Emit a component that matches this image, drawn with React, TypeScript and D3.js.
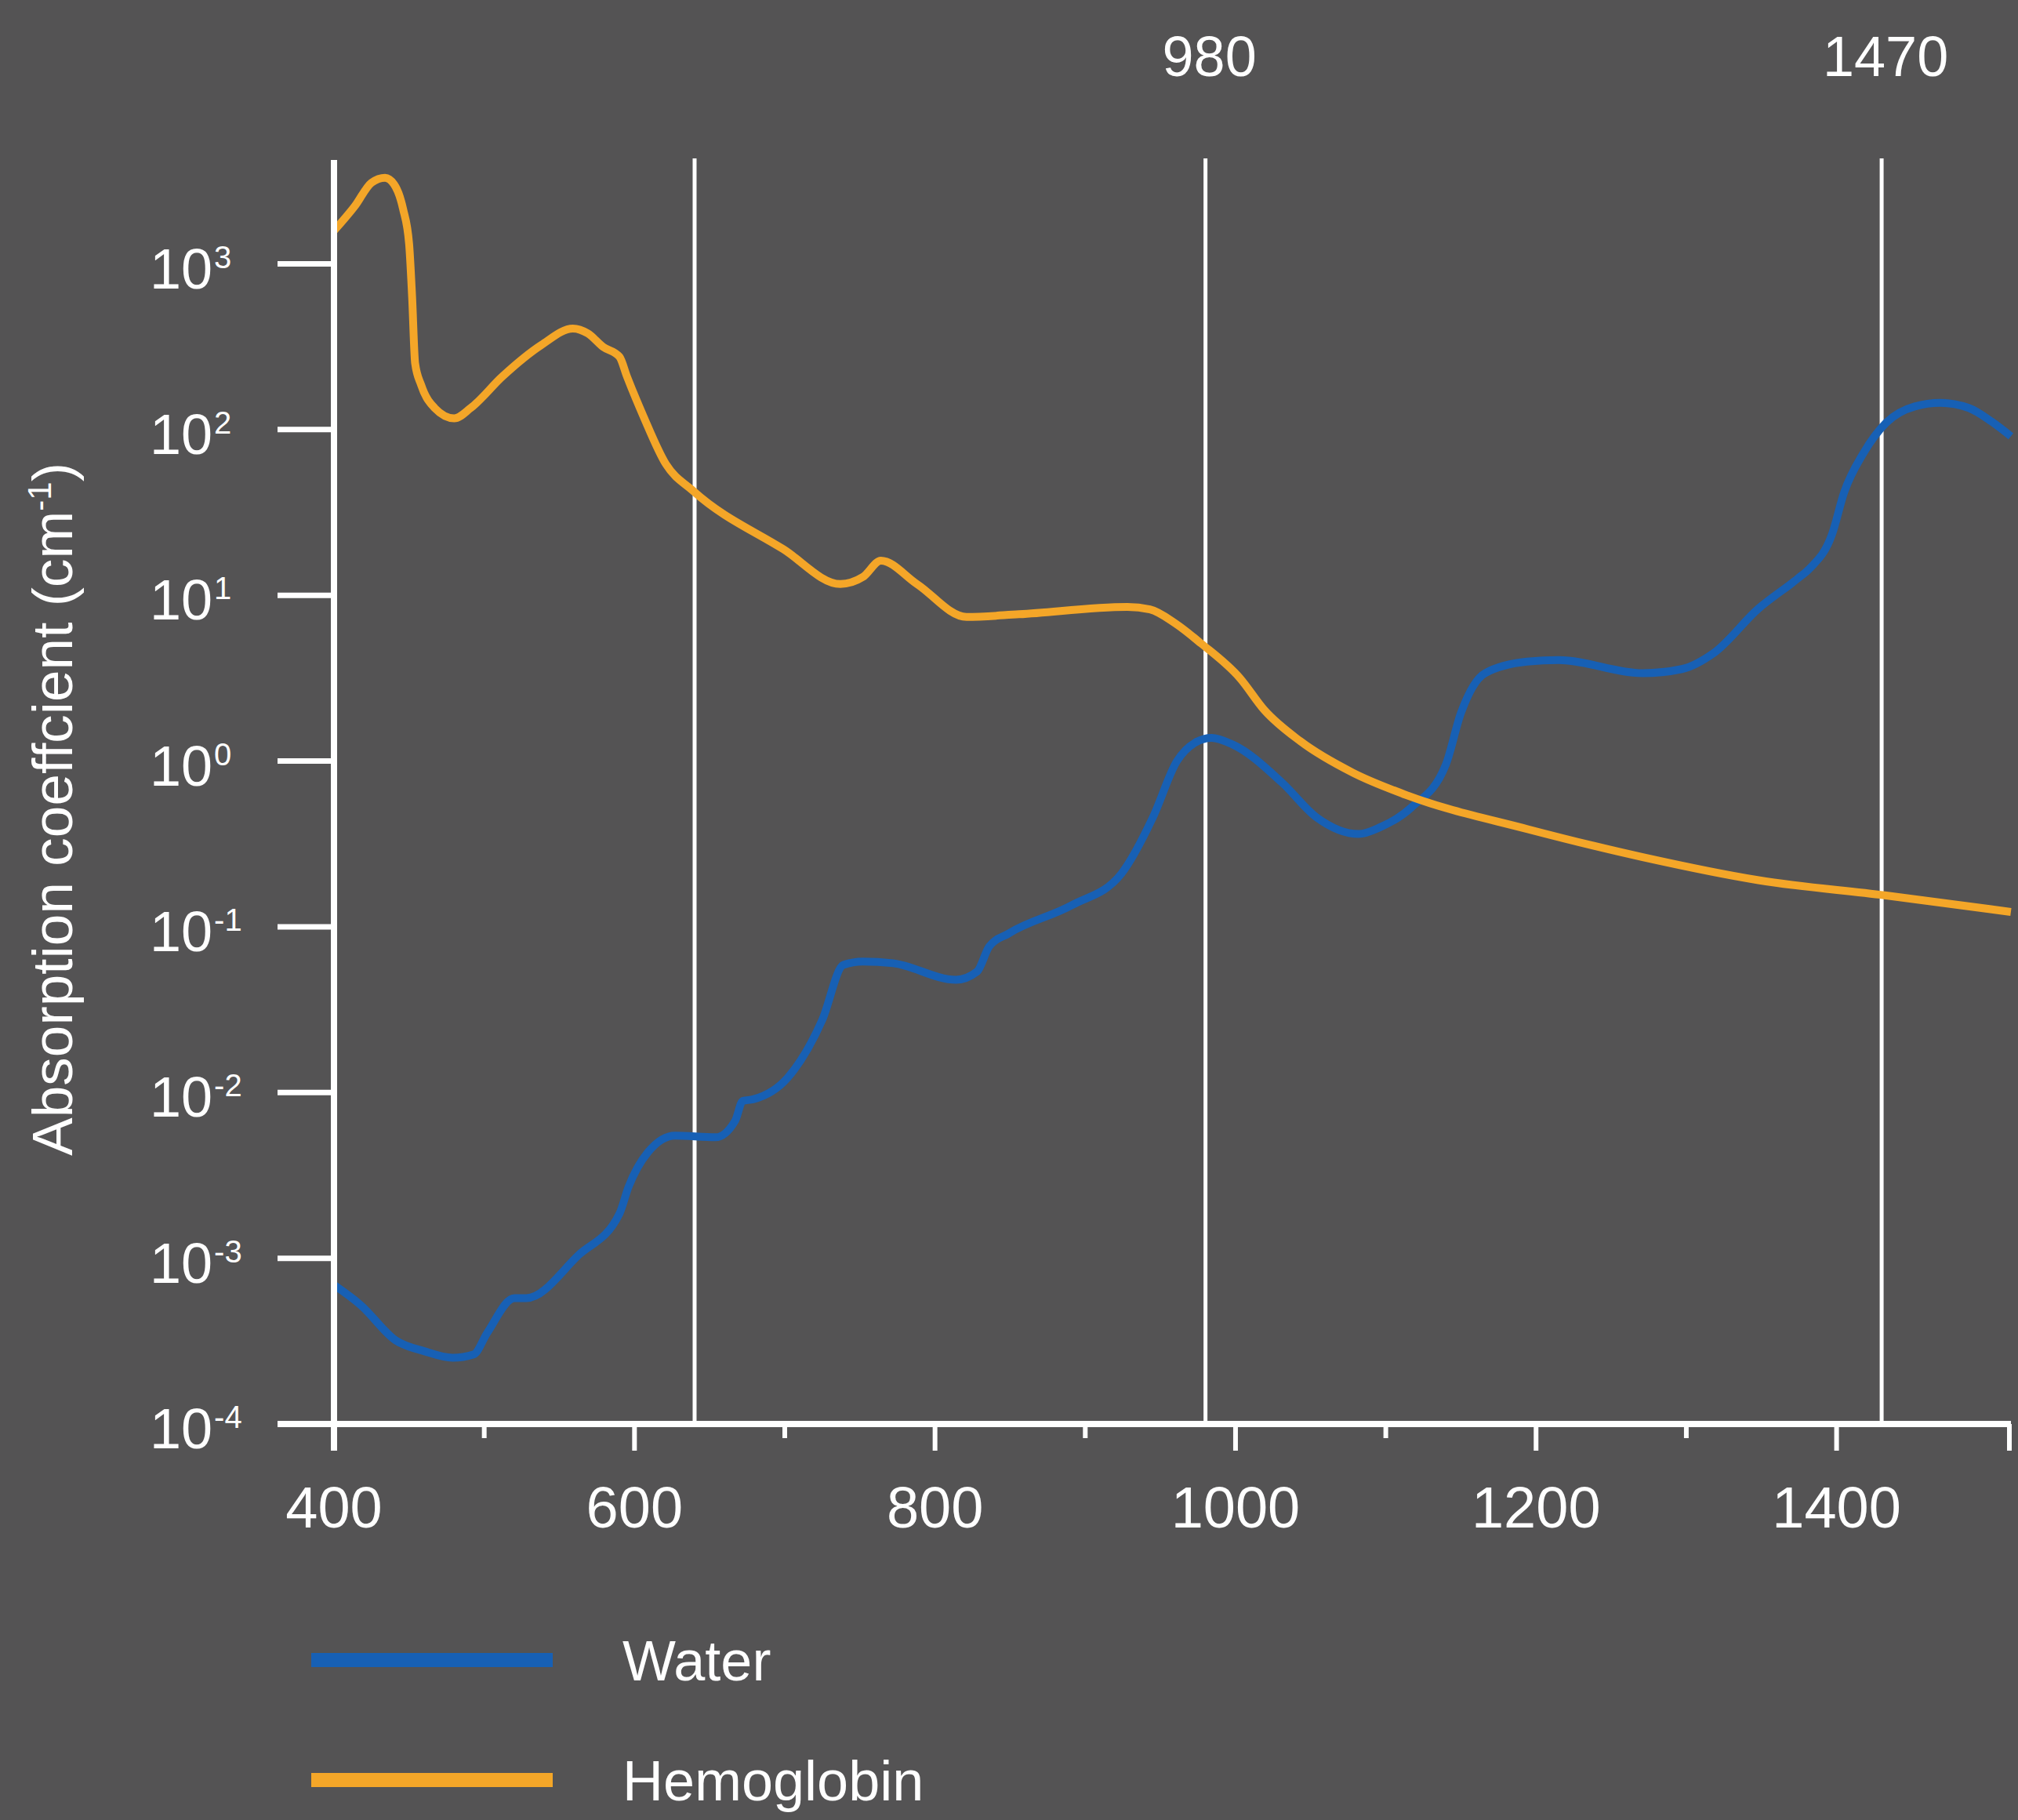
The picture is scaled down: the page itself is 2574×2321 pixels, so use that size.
import React, { useEffect } from 'react';
import * as d3 from 'd3';

// wavelength (nm) and absorption coefficient (cm-1)
const hemoglobinNm = [
  400, 414, 425, 434, 440, 446, 450, 452, 454, 458, 467, 480, 491, 512, 538, 559, 569, 579, 590, 595,
  606, 621, 639, 699, 737, 752, 764, 788, 821, 856, 928, 943, 960, 977, 1003, 1019, 1043, 1078, 1115,
  1194, 1271, 1348, 1432, 1516,
];
const hemoglobinAbs = [
  1585, 2240, 3090, 3310, 3020, 2140, 1320, 631, 251, 186, 135, 117, 135, 209, 324, 407, 380, 316, 275,
  209, 120, 61.7, 42.7, 19.0, 11.7, 12.9, 16.2, 11.7, 7.41, 7.69, 8.51, 8.22, 6.76, 5.13, 3.16, 2.04,
  1.32, 0.851, 0.617, 0.389, 0.263, 0.191, 0.155, 0.123,
];

const waterNm = [
  400, 418, 441, 460, 479, 493, 502, 520, 528, 563, 590, 596, 609, 627, 654, 667, 672, 679, 702, 725,
  739, 752, 772, 814, 828, 836, 849, 891, 924, 945, 961, 973, 984, 998, 1031, 1054, 1082, 1096, 1117,
  1140, 1150, 1166, 1194, 1215, 1271, 1297, 1318, 1348, 1374, 1382, 1397, 1405, 1418, 1433, 1452, 1469,
  1488, 1503, 1516,
];
const waterAbs = [
  0.00069, 0.00052, 0.00032, 0.000275, 0.000251, 0.000263, 0.000355, 0.000575, 0.000575, 0.00105,
  0.00186, 0.00269, 0.00437, 0.0055, 0.00537, 0.00676, 0.0089, 0.0091, 0.0123, 0.0275, 0.0589, 0.0617,
  0.0603, 0.0479, 0.0537, 0.0759, 0.0912, 0.135, 0.209, 0.457, 1.0, 1.29, 1.38, 1.26, 0.741, 0.457,
  0.363, 0.398, 0.525, 0.955, 1.95, 3.39, 3.98, 4.07, 3.39, 3.59, 4.47, 8.32, 12.6, 14.5, 23.4, 41.7,
  72.4, 110, 138, 145, 135, 112, 91.2,
];

const xTickValues = [400, 500, 600, 700, 800, 900, 1000, 1100, 1200, 1300, 1400];
const xLabelValues = [400, 600, 800, 1000, 1200, 1400];
const yExponents = [3, 2, 1, 0, -1, -2, -3, -4];
const markerNm = [640, 980, 1430];
const markerLabels = ['', '980', '1470'];
const legendNames = ['Water', 'Hemoglobin'];

const App = () => {
  useEffect(() => {
    document.body.style.margin = '0';
    d3.select('#chart').select('svg').remove();

    const width = 2574,
      height = 2321;
    const bg = '#545354',
      fg = '#ffffff',
      blue = '#1760b5',
      orange = '#f4a628';
    const font = "'Liberation Sans', Arial, sans-serif";

    const svg = d3
      .select('#chart')
      .append('svg')
      .attr('width', width)
      .attr('height', height)
      .style('display', 'block');

    svg.append('rect').attr('width', width).attr('height', height).attr('fill', bg);

    const x = d3.scaleLinear().domain([400, 1515]).range([426, 2563]);
    const y = d3
      .scaleLog()
      .domain([1e-4, Math.pow(10, 3.627)])
      .range([1816, 204]);

    // vertical marker lines
    svg
      .selectAll('.marker')
      .data(markerNm)
      .enter()
      .append('line')
      .attr('x1', (d) => x(d))
      .attr('x2', (d) => x(d))
      .attr('y1', 202)
      .attr('y2', y(1e-4))
      .attr('stroke', fg)
      .attr('stroke-width', 5);

    svg
      .selectAll('.markerLabel')
      .data(markerNm)
      .enter()
      .append('text')
      .attr('x', (d) => x(d) + 5)
      .attr('y', 97)
      .attr('text-anchor', 'middle')
      .attr('font-family', font)
      .attr('font-size', 72)
      .attr('fill', fg)
      .text((d, i) => markerLabels[i]);

    // curves
    const line = d3
      .line<[number, number]>()
      .x((d) => x(d[0]))
      .y((d) => y(d[1]))
      .curve(d3.curveMonotoneX);

    const water = waterNm.map((n, i) => [n, waterAbs[i]] as [number, number]);
    const hemo = hemoglobinNm.map((n, i) => [n, hemoglobinAbs[i]] as [number, number]);

    svg
      .append('path')
      .attr('d', line(water) ?? '')
      .attr('fill', 'none')
      .attr('stroke', blue)
      .attr('stroke-width', 10)
      .attr('stroke-linejoin', 'round');

    svg
      .append('path')
      .attr('d', line(hemo) ?? '')
      .attr('fill', 'none')
      .attr('stroke', orange)
      .attr('stroke-width', 10)
      .attr('stroke-linejoin', 'round');

    // axes
    svg
      .append('line')
      .attr('x1', x(400))
      .attr('x2', x(400))
      .attr('y1', 204)
      .attr('y2', 1850)
      .attr('stroke', fg)
      .attr('stroke-width', 8);

    svg
      .append('line')
      .attr('x1', 354)
      .attr('x2', x(1515) + 2)
      .attr('y1', y(1e-4))
      .attr('y2', y(1e-4))
      .attr('stroke', fg)
      .attr('stroke-width', 8);

    // y ticks and labels
    svg
      .selectAll('.ytick')
      .data(yExponents)
      .enter()
      .append('line')
      .attr('x1', 354)
      .attr('x2', x(400))
      .attr('y1', (d) => y(Math.pow(10, d)))
      .attr('y2', (d) => y(Math.pow(10, d)))
      .attr('stroke', fg)
      .attr('stroke-width', 7);

    const ylab = svg
      .selectAll('.ylabel')
      .data(yExponents)
      .enter()
      .append('text')
      .attr('x', 191)
      .attr('y', (d) => y(Math.pow(10, d)) + 31)
      .attr('font-family', font)
      .attr('font-size', 72)
      .attr('fill', fg);
    ylab.append('tspan').text('10');
    ylab
      .append('tspan')
      .attr('dx', 2)
      .attr('dy', -26)
      .attr('font-size', 40)
      .text((d) => String(d));

    // x ticks and labels
    svg
      .selectAll('.xtick')
      .data(xTickValues)
      .enter()
      .append('line')
      .attr('x1', (d) => x(d))
      .attr('x2', (d) => x(d))
      .attr('y1', y(1e-4))
      .attr('y2', (d) => (d % 200 === 0 ? 1850 : 1834))
      .attr('stroke', fg)
      .attr('stroke-width', 6);

    svg
      .append('line')
      .attr('x1', x(1515))
      .attr('x2', x(1515))
      .attr('y1', y(1e-4))
      .attr('y2', 1850)
      .attr('stroke', fg)
      .attr('stroke-width', 6);

    svg
      .selectAll('.xlabel')
      .data(xLabelValues)
      .enter()
      .append('text')
      .attr('x', (d) => x(d))
      .attr('y', 1948)
      .attr('text-anchor', 'middle')
      .attr('font-family', font)
      .attr('font-size', 74)
      .attr('fill', fg)
      .text((d) => String(d));

    // y axis title
    const title = svg
      .append('text')
      .attr('transform', 'translate(92,1032) rotate(-90)')
      .attr('text-anchor', 'middle')
      .attr('font-family', font)
      .attr('font-size', 73)
      .attr('fill', fg);
    title.append('tspan').text('Absorption coeffcient (cm');
    title.append('tspan').attr('dy', -27).attr('font-size', 42).text('-1');
    title.append('tspan').attr('dy', 27).text(')');

    // legend
    const legendColors = [blue, orange];
    const legendY = [2117, 2270];
    legendNames.forEach((name, i) => {
      svg
        .append('line')
        .attr('x1', 397)
        .attr('x2', 705)
        .attr('y1', legendY[i])
        .attr('y2', legendY[i])
        .attr('stroke', legendColors[i])
        .attr('stroke-width', 18);
      svg
        .append('text')
        .attr('x', 794)
        .attr('y', legendY[i] + 26)
        .attr('font-family', font)
        .attr('font-size', 72)
        .attr('fill', fg)
        .text(name);
    });
  }, []);

  return <div id="chart"></div>;
};

export default App;
